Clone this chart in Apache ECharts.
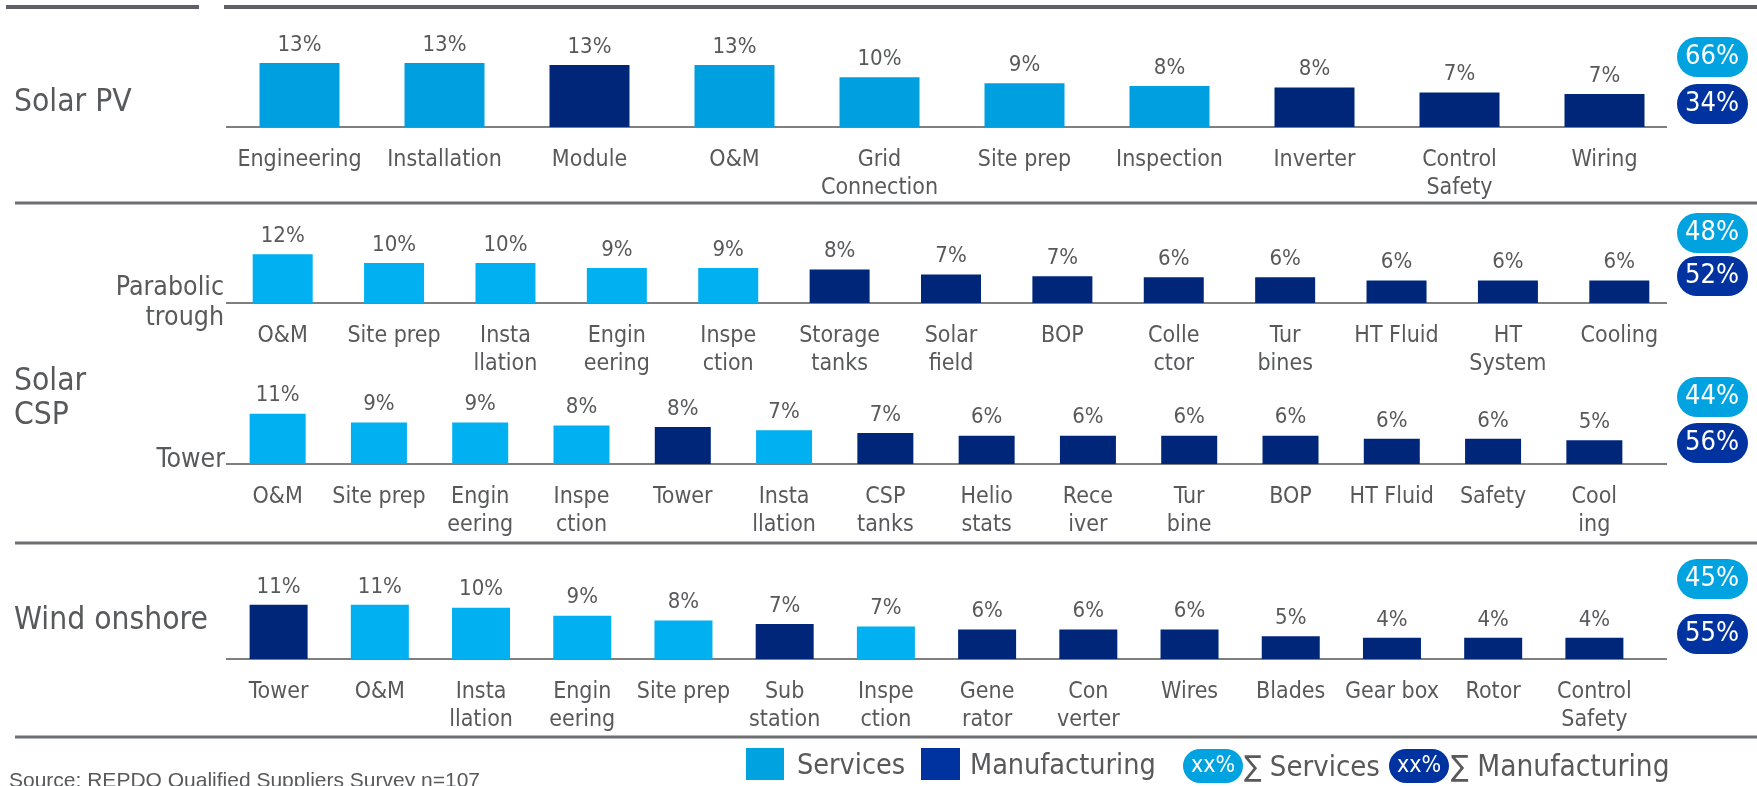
<!DOCTYPE html>
<html>
<head>
<meta charset="utf-8">
<script src="https://cdn.jsdelivr.net/npm/echarts@6.0.0/dist/echarts.min.js"></script>
<style>
  html, body { margin: 0; padding: 0; background: #fff; }
  #chart { width: 1757px; height: 786px; }
</style>
</head>
<body>
<div id="chart"></div>
<script>
// supplier share by category, S = services, M = manufacturing
const pvCats = ['Engineering', 'Installation', 'Module', 'O&M', 'Grid\nConnection', 'Site prep', 'Inspection', 'Inverter', 'Control\nSafety', 'Wiring'];
const pvVals = [13.0, 13.0, 12.6, 12.6, 10.1, 8.9, 8.3, 8.0, 7.0, 6.7];
const pvType = ['S', 'S', 'M', 'S', 'S', 'S', 'S', 'M', 'M', 'M'];

const ptCats = ['O&M', 'Site prep', 'Insta\nllation', 'Engin\neering', 'Inspe\nction', 'Storage\ntanks', 'Solar\nfield', 'BOP', 'Colle\nctor', 'Tur\nbines', 'HT Fluid', 'HT\nSystem', 'Cooling'];
const ptVals = [12.0, 9.8, 9.8, 8.6, 8.6, 8.2, 7.0, 6.6, 6.3, 6.3, 5.5, 5.5, 5.5];
const ptType = ['S', 'S', 'S', 'S', 'S', 'M', 'M', 'M', 'M', 'M', 'M', 'M', 'M'];

const twCats = ['O&M', 'Site prep', 'Engin\neering', 'Inspe\nction', 'Tower', 'Insta\nllation', 'CSP\ntanks', 'Helio\nstats', 'Rece\niver', 'Tur\nbine', 'BOP', 'HT Fluid', 'Safety', 'Cool\ning'];
const twVals = [11.0, 9.1, 9.1, 8.4, 8.1, 7.4, 6.8, 6.2, 6.2, 6.2, 6.2, 5.5, 5.5, 5.2];
const twType = ['S', 'S', 'S', 'S', 'M', 'S', 'M', 'M', 'M', 'M', 'M', 'M', 'M', 'M'];

const wdCats = ['Tower', 'O&M', 'Insta\nllation', 'Engin\neering', 'Site prep', 'Sub\nstation', 'Inspe\nction', 'Gene\nrator', 'Con\nverter', 'Wires', 'Blades', 'Gear box', 'Rotor', 'Control\nSafety'];
const wdVals = [11.0, 11.0, 10.4, 8.8, 7.8, 7.1, 6.6, 6.0, 6.0, 6.0, 4.6, 4.3, 4.3, 4.3];
const wdType = ['M', 'S', 'S', 'S', 'S', 'M', 'S', 'M', 'M', 'M', 'M', 'M', 'M', 'M'];

// sum badges on the right
const svcTotals = [66, 48, 44, 45];
const mfgTotals = [34, 52, 56, 55];

const FONT = '"DejaVu Sans Condensed", "DejaVu Sans", sans-serif';
const GREY = '#58595b';
const DARK = '#00267A';
const BADGE_LIGHT = '#00A3E0';
const BADGE_DARK = '#0033A0';

// layout of each panel
const panels = [
  { cats: pvCats, vals: pvVals, type: pvType, light: '#00A0E0', left: 227, width: 1450, top: 58, height: 69, barWidth: 80, badges: [57, 104] },
  { cats: ptCats, vals: ptVals, type: ptType, light: '#00B0F0', left: 227, width: 1448, top: 246, height: 57, barWidth: 60, badges: [233, 276] },
  { cats: twCats, vals: twVals, type: twType, light: '#00B0F0', left: 227, width: 1418, top: 400, height: 64, barWidth: 56, badges: [397, 443] },
  { cats: wdCats, vals: wdVals, type: wdType, light: '#00B0F0', left: 228, width: 1417, top: 590, height: 69, barWidth: 58, badges: [579, 634] }
];

const grid = [], xAxis = [], yAxis = [], series = [];
const graphic = [];

panels.forEach((p, i) => {
  grid.push({ left: p.left, top: p.top, width: p.width, height: p.height });
  xAxis.push({
    type: 'category', gridIndex: i, data: p.cats,
    axisLine: { show: false }, axisTick: { show: false },
    axisLabel: { interval: 0, color: GREY, fontSize: 23, lineHeight: 28, margin: 19, fontFamily: FONT }
  });
  yAxis.push({ type: 'value', gridIndex: i, min: 0, max: 14, show: false });
  series.push({
    type: 'bar', xAxisIndex: i, yAxisIndex: i, barWidth: p.barWidth,
    data: p.vals.map((v, k) => ({ value: v, itemStyle: { color: p.type[k] === 'S' ? p.light : DARK } })),
    label: {
      show: true, position: 'top', distance: 7, color: GREY, fontSize: 22, fontFamily: FONT,
      formatter: d => Math.round(d.value) + '%'
    }
  });
  // baseline
  const y = p.top + p.height;
  graphic.push({ type: 'line', shape: { x1: 226, y1: y, x2: 1667, y2: y }, style: { stroke: '#7f7f7f', lineWidth: 2 } });
  // sum badges
  [[svcTotals[i], BADGE_LIGHT, p.badges[0]], [mfgTotals[i], BADGE_DARK, p.badges[1]]].forEach(b => {
    graphic.push({ type: 'rect', shape: { x: 1677, y: b[2] - 20, width: 71, height: 40, r: 20 }, style: { fill: b[1] } });
    graphic.push({ type: 'text', x: 1712, y: b[2], style: { text: b[0] + '%', fill: '#fff', font: '27px ' + FONT, align: 'center', verticalAlign: 'middle' } });
  });
});

// frame lines
graphic.push({ type: 'line', shape: { x1: 6, y1: 7, x2: 199, y2: 7 }, style: { stroke: '#5f6166', lineWidth: 4 } });
graphic.push({ type: 'line', shape: { x1: 224, y1: 7, x2: 1757, y2: 7 }, style: { stroke: '#5f6166', lineWidth: 4 } });
[203, 543, 737].forEach(y => {
  graphic.push({ type: 'line', shape: { x1: 15, y1: y, x2: 1757, y2: y }, style: { stroke: '#6d6f73', lineWidth: 3 } });
});

// row titles
const title = (text, x, y, size, align) => ({
  type: 'text', x: x, y: y,
  style: { text: text, fill: GREY, font: size + 'px ' + FONT, align: align || 'left', verticalAlign: 'middle' }
});
graphic.push(title('Solar PV', 14, 103, 31.5));
graphic.push(title('Solar', 14, 382, 31.5));
graphic.push(title('CSP', 14, 416, 31.5));
graphic.push(title('Wind onshore', 14, 621, 31.5));
graphic.push(title('Parabolic', 224, 288, 26.5, 'right'));
graphic.push(title('trough', 224, 318, 26.5, 'right'));
graphic.push(title('Tower', 225, 460, 26.5, 'right'));

// legend
graphic.push({ type: 'rect', shape: { x: 746, y: 748, width: 38, height: 32 }, style: { fill: '#00A3E0' } });
graphic.push(title('Services', 797, 767, 28.5));
graphic.push({ type: 'rect', shape: { x: 921, y: 748, width: 39, height: 32 }, style: { fill: BADGE_DARK } });
graphic.push(title('Manufacturing', 970, 767, 28.5));
graphic.push({ type: 'rect', shape: { x: 1183, y: 749, width: 60, height: 34, r: 17 }, style: { fill: BADGE_LIGHT } });
graphic.push({ type: 'text', x: 1213, y: 766, style: { text: 'xx%', fill: '#fff', font: '23px ' + FONT, align: 'center', verticalAlign: 'middle' } });
graphic.push(title('\u2211 Services', 1244, 768, 29));
graphic.push({ type: 'rect', shape: { x: 1389, y: 749, width: 60, height: 34, r: 17 }, style: { fill: BADGE_DARK } });
graphic.push({ type: 'text', x: 1419, y: 766, style: { text: 'xx%', fill: '#fff', font: '23px ' + FONT, align: 'center', verticalAlign: 'middle' } });
graphic.push(title('\u2211 Manufacturing', 1451, 768, 29.5));

// source note, cut by the bottom edge as in the original
graphic.push({ type: 'text', x: 9, y: 781, style: { text: 'Source: REPDO Qualified Suppliers Survey n=107', fill: GREY, font: '21px "Liberation Sans", Arial, sans-serif', verticalAlign: 'middle' } });

const chart = echarts.init(document.getElementById('chart'));
chart.setOption({
  animation: false,
  textStyle: { fontFamily: FONT },
  grid: grid,
  xAxis: xAxis,
  yAxis: yAxis,
  series: series,
  graphic: graphic
});
</script>
</body>
</html>
